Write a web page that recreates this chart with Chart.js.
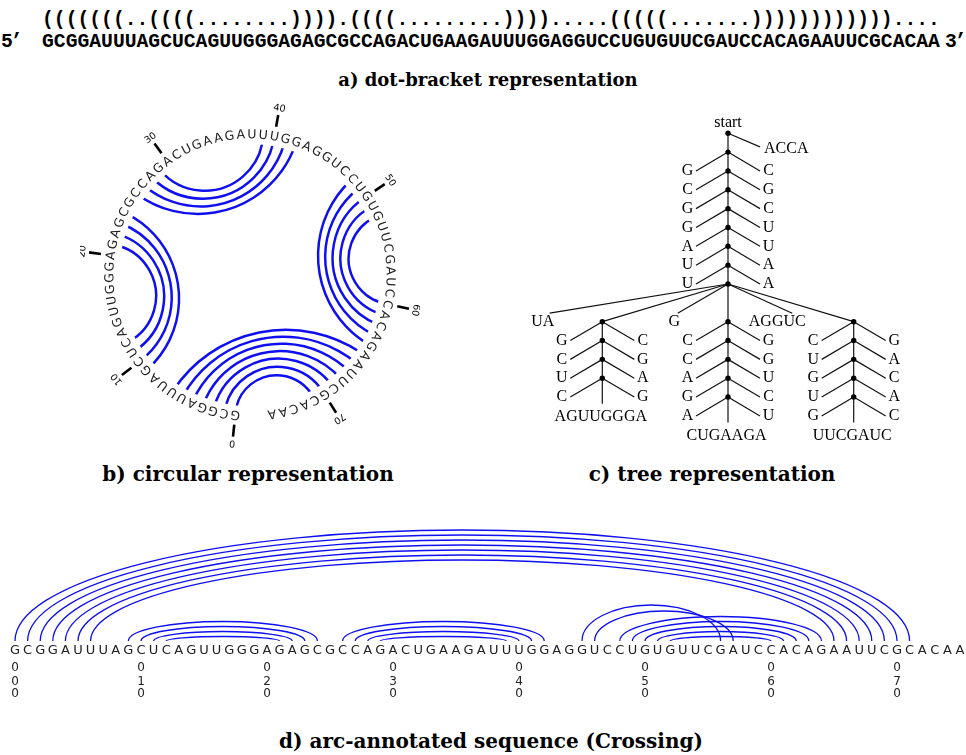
<!DOCTYPE html>
<html>
<head>
<meta charset="utf-8">
<script src="https://cdn.jsdelivr.net/npm/chart.js@4.4.0/dist/chart.umd.min.js"></script>
<style>
  html, body { margin: 0; padding: 0; background: #fff; }
  body { width: 966px; height: 755px; position: relative; overflow: hidden; }
  .panel { position: absolute; }
  .title { position: absolute; font-family: "DejaVu Serif", serif; font-weight: bold; font-size: 20px;
           color: #000; white-space: nowrap; transform: translate(-50%, -50%); }
  .mono { position: absolute; font-family: "Liberation Mono", monospace; font-weight: bold;
          font-size: 19.7px; line-height: 20px; white-space: pre; color: #000; }
</style>
</head>
<body>
<div class="mono" id="dotRow" style="left:42px; top:10px;"></div>
<div class="mono" id="fivePrime" style="left:1px; top:32px; letter-spacing:-2px;"></div>
<div class="mono" id="seqRow" style="left:42px; top:32px;"></div>
<div class="mono" id="threePrime" style="left:945px; top:32px; letter-spacing:-2px;"></div>
<div class="title" id="titleA" style="left:488px; top:79px; font-size:18px;"></div>

<canvas id="circ" class="panel" width="340" height="370" style="left:80px; top:90px;"></canvas>
<canvas id="tree" class="panel" width="440" height="345" style="left:500px; top:105px;"></canvas>
<div class="title" id="titleB" style="left:248px; top:474px;"></div>
<div class="title" id="titleC" style="left:712px; top:474px;"></div>

<canvas id="arcs" class="panel" width="966" height="215" style="left:0px; top:505px;"></canvas>
<div class="title" id="titleD" style="left:491px; top:741px;"></div>

<script>
// ---- data ----
const sequence = 'GCGGAUUUAGCUCAGUUGGGAGAGCGCCAGACUGAAGAUUUGGAGGUCCUGUGUUCGAUCCACAGAAUUCGCACAA';

// secondary structure pairs (0-based), with the arc heights of panel d
const pairOpen  = [0, 1, 2, 3, 4, 5, 6, 9, 10, 11, 12, 26, 27, 28, 29, 48, 49, 50, 51, 52];
const pairClose = [71, 70, 69, 68, 67, 66, 65, 24, 23, 22, 21, 42, 41, 40, 39, 64, 63, 62, 61, 60];
const arcHeight = [111, 106, 101, 96, 91, 86, 81, 19.5, 14.5, 9.5, 4.5, 19.5, 14.5, 9.5, 4.5,
                   24.5, 19.5, 14.5, 9.5, 4.5];

// extra crossing arcs of panel d
const crossOpen   = [45, 46];
const crossClose  = [56, 57];
const crossHeight = [36, 30];

const tickStep = 10;

// tree (panel c)
const treeRootLabel = 'start';
const treeTail = 'ACCA';
const stemLeft  = 'GCGGAUU';
const stemRight = 'CGCUUAA';
const multiloop = ['UA', 0, 'G', 1, 'AGGUC', 2];   // strings = unpaired, numbers = arm index
const armLeft  = ['GCUC', 'CCAGA', 'CUGUG'];
const armRight = ['CGAG', 'GGUCU', 'GACAC'];
const armLoop  = ['AGUUGGGA', 'CUGAAGA', 'UUCGAUC'];

const titles = {
  a: 'a) dot-bracket representation',
  b: 'b) circular representation',
  c: 'c) tree representation',
  d: 'd) arc-annotated sequence (Crossing)'
};

// ---- panel a: plain text ----
const dotBracket = sequence.split('').map((_, i) =>
  pairOpen.includes(i) ? '(' : pairClose.includes(i) ? ')' : '.').join('');
document.getElementById('dotRow').textContent = dotBracket;
document.getElementById('fivePrime').textContent = '5\u2019';
document.getElementById('seqRow').textContent = sequence;
document.getElementById('threePrime').textContent = '3\u2019';
document.getElementById('titleA').textContent = titles.a;
document.getElementById('titleB').textContent = titles.b;
document.getElementById('titleC').textContent = titles.c;
document.getElementById('titleD').textContent = titles.d;

const BLUE = 'rgb(15,15,240)';

function makeChart(id, xr, yr, reverseY, datasets, plugin) {
  return new Chart(document.getElementById(id), {
    type: 'scatter',
    data: { datasets: datasets },
    options: {
      responsive: false,
      animation: false,
      devicePixelRatio: 1,
      layout: { padding: 0, autoPadding: false },
      plugins: { legend: { display: false }, tooltip: { enabled: false } },
      scales: {
        x: { type: 'linear', display: false, min: xr[0], max: xr[1] },
        y: { type: 'linear', display: false, min: yr[0], max: yr[1], reverse: reverseY }
      }
    },
    plugins: [plugin]
  });
}

// ---- panel b: circular ----
const startDeg = 96, stepDeg = 4.6;
const rLetter = 140, rGeo = 138, rClip = 131, rTick0 = 150.5, rTick1 = 162.5, rTickLabel = 169;
const ang = i => (startDeg + stepDeg * i) * Math.PI / 180;

const circPoints = sequence.split('').map((b, i) => ({ x: rLetter * Math.cos(ang(i)), y: rLetter * Math.sin(ang(i)) }));

const circPlugin = {
  id: 'circ',
  afterDatasetsDraw(chart) {
    const { ctx, scales: { x, y } } = chart;
    const px = (vx, vy) => [x.getPixelForValue(vx), y.getPixelForValue(vy)];
    const unit = x.getPixelForValue(1) - x.getPixelForValue(0);
    const [cx, cy] = px(0, 0);

    // arcs (circles orthogonal to the base circle), clipped inside the letters
    ctx.save();
    ctx.beginPath();
    ctx.arc(cx, cy, rClip * unit, 0, Math.PI * 2);
    ctx.clip();
    ctx.strokeStyle = BLUE;
    ctx.lineWidth = 2.5;
    pairOpen.forEach((i, k) => {
      const j = pairClose[k];
      let a1 = ang(i), a2 = ang(j);
      let d = a2 - a1, mid = (a1 + a2) / 2;
      if (d > Math.PI) { d = 2 * Math.PI - d; mid += Math.PI; }
      const dist = rGeo / Math.cos(d / 2), rad = rGeo * Math.tan(d / 2);
      const [gx, gy] = px(dist * Math.cos(mid), dist * Math.sin(mid));
      const [p1x, p1y] = px(rGeo * Math.cos(a1), rGeo * Math.sin(a1));
      const [p2x, p2y] = px(rGeo * Math.cos(a2), rGeo * Math.sin(a2));
      const f1 = Math.atan2(p1y - gy, p1x - gx), f2 = Math.atan2(p2y - gy, p2x - gx);
      let delta = f2 - f1;
      while (delta > Math.PI) delta -= 2 * Math.PI;
      while (delta < -Math.PI) delta += 2 * Math.PI;
      ctx.beginPath();
      ctx.arc(gx, gy, rad * unit, f1, f2, delta < 0);
      ctx.stroke();
    });
    ctx.restore();

    // letters
    const meta = chart.getDatasetMeta(0);
    ctx.save();
    ctx.fillStyle = '#222';
    ctx.font = '12.5px "DejaVu Sans"';
    ctx.textAlign = 'center';
    ctx.textBaseline = 'middle';
    meta.data.forEach((pt, i) => {
      ctx.save();
      ctx.translate(pt.x, pt.y);
      ctx.rotate(ang(i) + Math.PI / 2);
      ctx.fillText(sequence[i], 0, 0);
      ctx.restore();
    });

    // ticks
    ctx.strokeStyle = '#000';
    ctx.lineWidth = 2.6;
    ctx.font = '9.5px "DejaVu Sans"';
    ctx.fillStyle = '#000';
    for (let i = 0; i < sequence.length; i += tickStep) {
      const a = ang(i);
      const [t0x, t0y] = px(rTick0 * Math.cos(a), rTick0 * Math.sin(a));
      const [t1x, t1y] = px(rTick1 * Math.cos(a), rTick1 * Math.sin(a));
      ctx.beginPath();
      ctx.moveTo(t0x, t0y);
      ctx.lineTo(t1x, t1y);
      ctx.stroke();
      const [lx, ly] = px(rTickLabel * Math.cos(a), rTickLabel * Math.sin(a));
      ctx.save();
      ctx.translate(lx, ly);
      ctx.rotate(a + Math.PI / 2);
      ctx.fillText(String(i), 0, 0);
      ctx.restore();
    }
    ctx.restore();
  }
};

makeChart('circ', [-170, 170], [-185, 185], true,
  [{ data: circPoints, pointRadius: 0 }], circPlugin);

// ---- panel c: tree ----
const armGap = 125.7, pairDx = 40.5, edgeDx = 32, armLevel = 10;
const treeNodes = [];
const treeEdges = [];
const treeLabels = [];

treeNodes.push({ x: 0, y: 0 });
treeLabels.push({ x: 0, y: -0.55, text: treeRootLabel, align: 'center' });
treeLabels.push({ x: 36, y: 0.8, text: treeTail, align: 'left' });
treeEdges.push([0, 0, 32, 0.72]);
for (let p = 0; p < stemLeft.length; p++) {
  const L = p + 1;
  treeNodes.push({ x: 0, y: L });
  treeLabels.push({ x: -pairDx, y: L + 1, text: stemLeft[p], align: 'center' });
  treeLabels.push({ x: pairDx, y: L + 1, text: stemRight[p], align: 'center' });
  treeEdges.push([0, L, -edgeDx, L + 1], [0, L, edgeDx, L + 1]);
}
const mlLevel = stemLeft.length + 1;
treeNodes.push({ x: 0, y: mlLevel });
treeEdges.push([0, 0, 0, mlLevel]);

const armX = k => (k - 1) * armGap;
const unpaired = [];
multiloop.forEach((item, idx) => {
  if (typeof item === 'string') {
    unpaired.push({ text: item, right: armX(multiloop[idx + 1]) - 48 });
    return;
  }
  const k = item, ax = armX(k), n = armLeft[k].length;
  treeEdges.push([0, mlLevel, ax, armLevel]);
  for (let p = 0; p < n; p++) {
    const L = armLevel + p;
    treeNodes.push({ x: ax, y: L });
    treeLabels.push({ x: ax - pairDx, y: L + 1, text: armLeft[k][p], align: 'center' });
    treeLabels.push({ x: ax + pairDx, y: L + 1, text: armRight[k][p], align: 'center' });
    treeEdges.push([ax, L, ax - edgeDx, L + 1], [ax, L, ax + edgeDx, L + 1]);
  }
  treeEdges.push([ax, armLevel, ax, armLevel + n + 0.35]);
  treeLabels.push({ x: ax - 1.5, y: armLevel + n + 1.05, text: armLoop[k], align: 'center' });
});

const treePlugin = {
  id: 'tree',
  beforeDatasetsDraw(chart) {
    const { ctx, scales: { x, y } } = chart;
    const unit = x.getPixelForValue(1) - x.getPixelForValue(0);
    ctx.save();
    ctx.strokeStyle = '#111';
    ctx.lineWidth = 1.2;
    ctx.font = '16px "Liberation Serif"';
    treeEdges.forEach(e => {
      ctx.beginPath();
      ctx.moveTo(x.getPixelForValue(e[0]), y.getPixelForValue(e[1]));
      ctx.lineTo(x.getPixelForValue(e[2]), y.getPixelForValue(e[3]));
      ctx.stroke();
    });
    unpaired.forEach(u => {
      const w = ctx.measureText(u.text).width / unit;
      const center = u.right - w / 2;
      treeLabels.push({ x: center, y: armLevel, text: u.text, align: 'center' });
      ctx.beginPath();
      ctx.moveTo(x.getPixelForValue(0), y.getPixelForValue(mlLevel));
      ctx.lineTo(x.getPixelForValue(center + Math.min(15, w * 0.3)), y.getPixelForValue(armLevel - 0.45));
      ctx.stroke();
    });
    ctx.restore();
  },
  afterDatasetsDraw(chart) {
    const { ctx, scales: { x, y } } = chart;
    ctx.save();
    ctx.fillStyle = '#000';
    ctx.font = '16px "Liberation Serif"';
    ctx.textBaseline = 'middle';
    treeLabels.forEach(l => {
      ctx.textAlign = l.align;
      ctx.fillText(l.text, x.getPixelForValue(l.x), y.getPixelForValue(l.y));
    });
    ctx.restore();
  }
};

makeChart('tree', [-228, 212], [-1.5, 16.81], true,
  [{ data: treeNodes, pointRadius: 2.7, pointBackgroundColor: '#000', pointBorderWidth: 0 }], treePlugin);

// ---- panel d: arc-annotated sequence ----
const letterY = -9.5, digitY = [-27.3, -40.7, -53];
const basePoints = sequence.split('').map((b, i) => ({ x: i, y: letterY }));

const arcPlugin = {
  id: 'arcs',
  afterDatasetsDraw(chart) {
    const { ctx, scales: { x, y } } = chart;
    ctx.save();
    ctx.strokeStyle = BLUE;
    ctx.lineWidth = 1.3;
    const drawArc = (i, j, h) => {
      const x1 = x.getPixelForValue(i), x2 = x.getPixelForValue(j);
      const base = y.getPixelForValue(0), top = y.getPixelForValue(h);
      ctx.beginPath();
      ctx.ellipse((x1 + x2) / 2, base, (x2 - x1) / 2, base - top, 0, Math.PI, 2 * Math.PI);
      ctx.stroke();
    };
    pairOpen.forEach((i, k) => drawArc(i, pairClose[k], arcHeight[k]));
    crossOpen.forEach((i, k) => drawArc(i, crossClose[k], crossHeight[k]));

    const meta = chart.getDatasetMeta(0);
    ctx.fillStyle = '#222';
    ctx.font = '13px "DejaVu Sans"';
    ctx.textAlign = 'center';
    ctx.textBaseline = 'middle';
    meta.data.forEach((pt, i) => ctx.fillText(sequence[i], pt.x, pt.y));

    ctx.font = '12px "DejaVu Sans"';
    for (let i = 0; i < sequence.length; i += tickStep) {
      const digits = String(i).padStart(3, '0');
      for (let d = 0; d < 3; d++) {
        ctx.fillText(digits[d], x.getPixelForValue(i), y.getPixelForValue(digitY[d]));
      }
    }
    ctx.restore();
  }
};

makeChart('arcs', [-15 / 12.6, 951 / 12.6], [-79, 136], false,
  [{ data: basePoints, pointRadius: 0 }], arcPlugin);
</script>
</body>
</html>
